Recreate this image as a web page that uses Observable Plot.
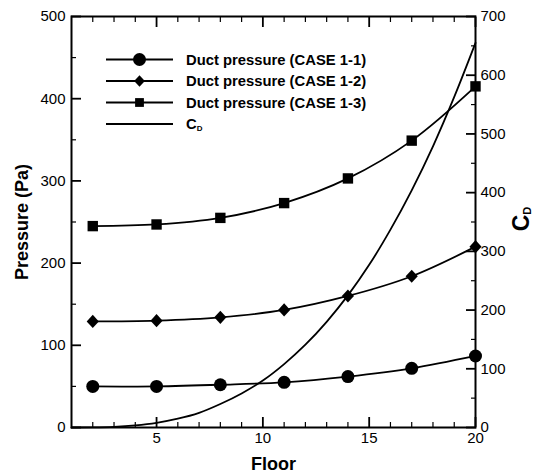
<!DOCTYPE html>
<html><head><meta charset="utf-8">
<script src="https://cdn.jsdelivr.net/npm/d3@7"></script>
<script src="https://cdn.jsdelivr.net/npm/@observablehq/plot@0.6"></script>
<style>
body{margin:0;background:#fff;}
svg{font-family:"Liberation Sans",Arial,sans-serif;background:#fff;}
</style></head><body><div id="chart"></div>
<script>
// ---- data ----
const floors = [2, 5, 8, 11, 14, 17, 20];
const case11 = [50, 50, 52, 55, 62, 72, 87];
const case12 = [129, 130, 134, 143, 160, 184, 220];
const case13 = [245, 247, 255, 273, 303, 349, 415];
const cdFloors = [1, 2, 3, 4, 5, 6, 7, 8, 9, 10, 11, 12, 13, 14, 15, 16, 17, 18, 19, 20];
const cdValues = [0, 0.2, 1.2, 3.7, 8, 15, 25, 40, 58, 80, 108, 141, 180, 225, 277, 337, 404, 479, 563, 655];
const pressureTicks = [0, 100, 200, 300, 400, 500];
const pressureMinor = [50, 150, 250, 350, 450];
const cdTicks = [0, 100, 200, 300, 400, 500, 600, 700];
const cdMinor = [50, 150, 250, 350, 450, 550, 650];
const floorTicks = [5, 10, 15, 20];
const floorMinor = [2, 3, 4, 6, 7, 8, 9, 11, 12, 13, 14, 16, 17, 18, 19];
const legendLabels = ["Duct pressure (CASE 1-1)", "Duct pressure (CASE 1-2)", "Duct pressure (CASE 1-3)", "C"];

// ---- build ----
const k = 500 / 700; // C_D -> pressure scale
const mk = (ys) => floors.map((f, i) => ({floor: f, p: ys[i]}));
const s11 = mk(case11), s12 = mk(case12), s13 = mk(case13);
const cd = cdFloors.map((f, i) => ({floor: f, cd: cdValues[i]}));

const diamond = (ratio) => ({
  draw(ctx, size) {
    const r = Math.sqrt(size / Math.PI);
    const w = r * ratio;
    ctx.moveTo(0, -r); ctx.lineTo(w, 0); ctx.lineTo(0, r); ctx.lineTo(-w, 0); ctx.closePath();
  }
});
const square = {
  draw(ctx, size) {
    const r = Math.sqrt(size / Math.PI);
    ctx.rect(-r, -r, 2 * r, 2 * r);
  }
};

const lw = 1.8;
const noText = () => "";
const chart = Plot.plot({
  width: 541, height: 474,
  marginLeft: 71, marginRight: 66, marginTop: 16, marginBottom: 47,
  x: {domain: [1, 20]},
  y: {domain: [0, 500]},
  marks: [
    Plot.line(cd, {x: "floor", y: d => d.cd * k, curve: "catmull-rom", strokeWidth: lw}),
    Plot.line(s11, {x: "floor", y: "p", curve: "catmull-rom", strokeWidth: lw}),
    Plot.line(s12, {x: "floor", y: "p", curve: "catmull-rom", strokeWidth: lw}),
    Plot.line(s13, {x: "floor", y: "p", curve: "catmull-rom", strokeWidth: lw}),
    Plot.dot(s11, {x: "floor", y: "p", r: 6.5, fill: "black", symbol: "circle"}),
    Plot.dot(s12, {x: "floor", y: "p", r: 6.6, fill: "black", symbol: diamond(0.92)}),
    Plot.dot(s13, {x: "floor", y: "p", r: 5.2, fill: "black", symbol: square}),
    Plot.frame({strokeWidth: 2}),
    // left axis
    Plot.axisY(pressureTicks, {anchor: "left", tickSize: 0, tickPadding: 6, fontSize: 15, label: null}),
    Plot.axisY(pressureTicks, {anchor: "left", tickSize: -10, tickFormat: noText, label: null, strokeWidth: 1.8}),
    Plot.axisY(pressureMinor, {anchor: "left", tickSize: -5, tickFormat: noText, label: null, strokeWidth: 1.2}),
    // right axis (C_D)
    Plot.axisY(cdTicks.map(v => v * k), {anchor: "right", tickSize: 0, tickPadding: 5, fontSize: 15, label: null, tickFormat: d => Math.round(d / k)}),
    Plot.axisY(cdTicks.map(v => v * k), {anchor: "right", tickSize: -10, tickFormat: noText, label: null, strokeWidth: 1.8}),
    Plot.axisY(cdMinor.map(v => v * k), {anchor: "right", tickSize: -5, tickFormat: noText, label: null, strokeWidth: 1.2}),
    // bottom / top
    Plot.axisX(floorTicks, {anchor: "bottom", tickSize: 0, tickPadding: 5, fontSize: 15, label: null}),
    Plot.axisX(floorTicks, {anchor: "bottom", tickSize: -10, tickFormat: noText, label: null, strokeWidth: 1.8}),
    Plot.axisX(floorMinor, {anchor: "bottom", tickSize: -5, tickFormat: noText, label: null, strokeWidth: 1.2}),
    Plot.axisX(floorTicks, {anchor: "top", tickSize: -10, tickFormat: noText, label: null, strokeWidth: 1.8}),
    Plot.axisX(floorMinor, {anchor: "top", tickSize: -5, tickFormat: noText, label: null, strokeWidth: 1.2})
  ]
});
document.getElementById("chart").appendChild(chart);

// ---- axis titles and legend ----
const svg = d3.select(chart);
svg.append("text").attr("transform", "translate(22,222) rotate(-90)")
  .attr("text-anchor", "middle").attr("dominant-baseline", "central")
  .attr("font-weight", "bold").attr("font-size", 18).attr("fill", "black").text("Pressure (Pa)");
svg.append("text").attr("x", 273.5).attr("y", 464)
  .attr("text-anchor", "middle").attr("dominant-baseline", "central")
  .attr("font-weight", "bold").attr("font-size", 18).attr("fill", "black").text("Floor");
const cdt = svg.append("text").attr("transform", "translate(521,219) rotate(-90)")
  .attr("text-anchor", "middle").attr("dominant-baseline", "central")
  .attr("font-weight", "bold").attr("font-size", 23).attr("fill", "black");
cdt.append("tspan").text("C");
cdt.append("tspan").attr("font-size", 11).attr("dy", 6).text("D");

const lg = svg.append("g");
const symbols = [d3.symbol(d3.symbolCircle, Math.PI * 6.5 * 6.5), d3.symbol(diamond(0.92), Math.PI * 5.8 * 5.8), d3.symbol(square, Math.PI * 4.4 * 4.4), null];
legendLabels.forEach((lab, i) => {
  const y = 59.5 + i * 21.5;
  lg.append("line").attr("x1", 106).attr("x2", 173).attr("y1", y).attr("y2", y)
    .attr("stroke", "black").attr("stroke-width", lw);
  if (symbols[i]) lg.append("path").attr("d", symbols[i]()).attr("transform", `translate(139.5,${y})`).attr("fill", "black");
  const t = lg.append("text").attr("x", 186).attr("y", y).attr("dominant-baseline", "central")
    .attr("text-anchor", "start")
    .attr("font-weight", "bold").attr("font-size", 14.8).attr("fill", "black");
  t.append("tspan").text(lab);
  if (i === 3) t.append("tspan").attr("font-size", 8).attr("dy", 4).text("D");
});
</script></body></html>
